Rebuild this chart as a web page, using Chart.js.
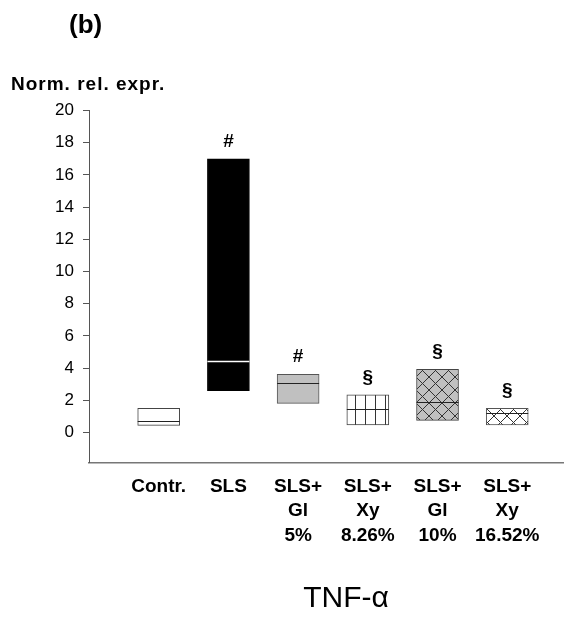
<!DOCTYPE html>
<html>
<head>
<meta charset="utf-8">
<script src="https://cdn.jsdelivr.net/npm/chart.js@4.4.0/dist/chart.umd.min.js"></script>
<style>
  html, body { margin: 0; padding: 0; background: #fff; }
  #wrap { position: relative; width: 572px; height: 623px; }
  canvas { display: block; }
</style>
</head>
<body>
<div id="wrap"><canvas id="boxChart" width="572" height="623"></canvas></div>
<script>
// data (min / max / median per group)
const categories = [['Contr.'], ['SLS'], ['SLS+', 'Gl', '5%'], ['SLS+', 'Xy', '8.26%'], ['SLS+', 'Gl', '10%'], ['SLS+', 'Xy', '16.52%']];
const positions = [1, 2, 3, 4, 5, 6];
const lows = [0.45, 2.6, 1.81, 0.48, 0.76, 0.47];
const highs = [1.5, 17.0, 3.61, 2.35, 3.93, 1.5];
const medians = [0.7, 4.44, 3.09, 1.44, 1.89, 1.19];
const marks = ['', '#', '#', '§', '§', '§'];
const yTicks = [0, 2, 4, 6, 8, 10, 12, 14, 16, 18, 20];

// fill patterns
function makePattern(kind, bg) {
    const c = document.createElement('canvas');
    const s = kind === 'cross' ? 13 : 10;
    c.width = s; c.height = s;
    const g = c.getContext('2d');
    g.fillStyle = bg;
    g.fillRect(0, 0, s, s);
    g.strokeStyle = '#333';
    g.lineWidth = 1;
    g.beginPath();
    if (kind === 'cross') {
        g.moveTo(0, 0); g.lineTo(s, s);
        g.moveTo(0, s); g.lineTo(s, 0);
    } else {
        g.moveTo(5.5, 0); g.lineTo(5.5, s);
    }
    g.stroke();
    return g.createPattern(c, 'repeat');
}

const ctx = document.getElementById('boxChart').getContext('2d');

const fills = [
    '#ffffff',
    '#000000',
    '#c0c0c0',
    makePattern('vert', '#ffffff'),
    makePattern('cross', '#c0c0c0'),
    makePattern('cross', '#ffffff')
];
const borders = ['#444', '#000', '#555', '#444', '#444', '#555'];

// medians, significance marks and the free texts
const extras = {
    id: 'extras',
    afterDatasetsDraw(chart) {
        const c = chart.ctx;
        const y = chart.scales.y;
        const meta = chart.getDatasetMeta(0);
        c.save();
        meta.data.forEach((bar, i) => {
            const half = bar.width / 2;
            const my = Math.round(y.getPixelForValue(medians[i])) + 0.5;
            c.strokeStyle = i === 1 ? '#ffffff' : '#222';
            c.lineWidth = i === 1 ? 1.5 : 1.2;
            c.beginPath();
            c.moveTo(bar.x - half, my);
            c.lineTo(bar.x + half, my);
            c.stroke();

            if (marks[i]) {
                c.fillStyle = '#000';
                c.font = 'bold 19px "Liberation Sans", Arial, sans-serif';
                c.textAlign = 'center';
                c.textBaseline = 'alphabetic';
                c.fillText(marks[i], bar.x, y.getPixelForValue(highs[i]) - 12);
            }
        });

        c.fillStyle = '#000';
        c.textAlign = 'left';
        c.textBaseline = 'alphabetic';
        c.font = 'bold 26px "Liberation Sans", Arial, sans-serif';
        c.fillText('(b)', 69, 33);
        c.font = 'bold 19px "Liberation Sans", Arial, sans-serif';
        c.letterSpacing = '1px';
        c.fillText('Norm. rel. expr.', 11, 90);
        c.letterSpacing = '0px';
        c.textAlign = 'center';
        c.font = '30px "Liberation Sans", Arial, sans-serif';
        c.fillText('TNF-α', 346, 607);
        c.restore();
    }
};

new Chart(ctx, {
    type: 'bar',
    data: {
        datasets: [{
            data: positions.map((p, i) => ({ x: p, y: [lows[i], highs[i]] })),
            backgroundColor: fills,
            borderColor: borders,
            borderWidth: 1,
            borderSkipped: false,
            barThickness: 42
        }]
    },
    options: {
        responsive: false,
        animation: false,
        events: [],
        layout: { padding: { top: 110.5, left: 0, right: 9, bottom: 0 } },
        plugins: {
            legend: { display: false },
            tooltip: { enabled: false }
        },
        scales: {
            x: {
                type: 'linear',
                min: 0,
                max: 6.8,
                offset: false,
                afterBuildTicks: (scale) => {
                    scale.ticks = positions.map(v => ({ value: v }));
                },
                afterFit: (scale) => { scale.height = 160.5; },
                grid: { display: false, drawTicks: false, offset: false },
                border: { display: true, color: '#777', width: 1.5 },
                ticks: {
                    autoSkip: false,
                    maxRotation: 0,
                    padding: 12,
                    color: '#000',
                    font: { family: '"Liberation Sans", Arial, sans-serif', size: 19, weight: 'bold', lineHeight: 1.28 },
                    callback: (v) => categories[positions.indexOf(v)]
                }
            },
            y: {
                min: -1.86,
                max: 20,
                afterBuildTicks: (scale) => {
                    scale.ticks = yTicks.map(v => ({ value: v }));
                },
                afterFit: (scale) => { scale.width = 89; },
                grid: { drawOnChartArea: false, drawTicks: true, tickLength: 6, color: '#555' },
                border: { display: true, color: '#555', width: 1 },
                ticks: {
                    padding: 9,
                    color: '#000',
                    font: { family: '"Liberation Sans", Arial, sans-serif', size: 17 }
                }
            }
        }
    },
    plugins: [extras]
});
</script>
</body>
</html>
